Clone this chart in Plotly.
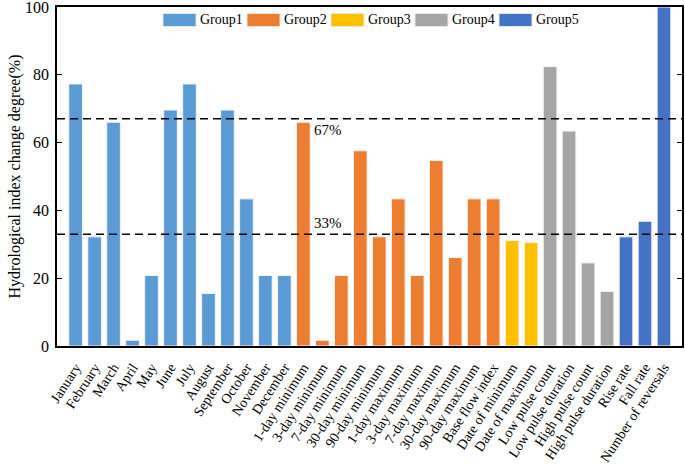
import plotly.graph_objects as go

categories = ["January", "February", "March", "April", "May", "June", "July", "August",
              "September", "October", "November", "December",
              "1-day minimum", "3-day minimum", "7-day minimum", "30-day minimum", "90-day minimum",
              "1-day maximum", "3-day maximum", "7-day maximum", "30-day maximum", "90-day maximum",
              "Base flow index",
              "Date of minimum", "Date of maximum",
              "Low pulse count", "Low pulse duration", "High pulse count", "High pulse duration",
              "Rise rate", "Fall rate", "Number of reversals"]

group1_values = [77.3, 32.2, 66.0, 1.7, 20.8, 69.6, 77.3, 15.5, 69.6, 43.4, 20.8, 20.8]
group2_values = [66.0, 1.7, 20.8, 57.6, 32.2, 43.4, 20.8, 54.7, 26.1, 43.4, 43.4]
group3_values = [31.1, 30.5]
group4_values = [82.4, 63.4, 24.5, 16.1]
group5_values = [32.2, 36.8, 100.0]

group_names = ["Group1", "Group2", "Group3", "Group4", "Group5"]
group_colors = ["#5B9BD5", "#ED7D31", "#FFC000", "#A5A5A5", "#4472C4"]
group_values = [group1_values, group2_values, group3_values, group4_values, group5_values]

thresholds = [67, 33]
threshold_labels = ["67%", "33%"]

FONT = "Liberation Serif"
L, R, T, B = 57, 3, 7, 119
W, H = 685, 465
PW, PH = W - L - R, H - T - B

fig = go.Figure()
start = 0
for name, color, vals in zip(group_names, group_colors, group_values):
    cats = categories[start:start + len(vals)]
    start += len(vals)
    fig.add_trace(go.Bar(x=cats, y=vals, name=name, width=0.72, showlegend=False,
                         marker=dict(color=color, line=dict(color="#f4f4f4", width=1))))

for t in thresholds:
    fig.add_shape(type="line", xref="paper", x0=0, x1=1, yref="y", y0=t, y1=t,
                  line=dict(color="black", width=1.5, dash="8px,5px"))

fig.add_annotation(x="1-day minimum", y=thresholds[0], text=threshold_labels[0], showarrow=False,
                   xanchor="left", yanchor="top", xshift=9, yshift=-1,
                   font=dict(family=FONT, size=15, color="black"))
fig.add_annotation(x="1-day minimum", y=thresholds[1], text=threshold_labels[1], showarrow=False,
                   xanchor="left", yanchor="bottom", xshift=9, yshift=1,
                   font=dict(family=FONT, size=15, color="black"))

# legend drawn as wide swatches + text, in paper coordinates
leg_x0 = 163      # pixel of first swatch
leg_pitch = 84
sw_w, sw_h = 33, 13
leg_cy = 20
for i, (name, color) in enumerate(zip(group_names, group_colors)):
    px0 = leg_x0 + i * leg_pitch
    fig.add_shape(type="rect", xref="paper", yref="paper",
                  x0=(px0 - L) / PW, x1=(px0 + sw_w - L) / PW,
                  y0=(H - B - (leg_cy + sw_h / 2)) / PH, y1=(H - B - (leg_cy - sw_h / 2)) / PH,
                  fillcolor=color, line=dict(color="#e8e8e8", width=1))
    fig.add_annotation(xref="paper", yref="paper", x=(px0 + sw_w + 2 - L) / PW,
                       y=(H - B - leg_cy) / PH, text=name, showarrow=False,
                       xanchor="left", yanchor="middle",
                       font=dict(family=FONT, size=14, color="black"))

fig.update_layout(
    width=W, height=H,
    margin=dict(l=L, r=R, t=T, b=B),
    paper_bgcolor="white", plot_bgcolor="white",
    barmode="overlay",
    font=dict(family=FONT, color="black"),
    showlegend=False,
    xaxis=dict(type="category", categoryorder="array", categoryarray=categories,
               range=[-0.98, len(categories) - 0.05], tickangle=-57, automargin=False,
               ticklabelstandoff=6,
               tickfont=dict(family=FONT, size=14, color="black"),
               showline=True, linecolor="black", linewidth=1.5, mirror=True,
               ticks="", showgrid=False),
    yaxis=dict(range=[0, 100], tickvals=[0, 20, 40, 60, 80, 100], automargin=False,
               ticklabeloverflow="allow", ticklabelstandoff=3,
               tickfont=dict(family=FONT, size=16, color="black"),
               title=dict(text="Hydrological index change degree(%)",
                          font=dict(family=FONT, size=16, color="black"), standoff=0),
               showline=True, linecolor="black", linewidth=1.5, mirror="ticks",
               ticks="inside", ticklen=5, tickwidth=1, tickcolor="black",
               showgrid=False, zeroline=False),
)

fig.write_html("out.html", config={"displayModeBar": False},
               post_script="document.body.style.margin='0';")
